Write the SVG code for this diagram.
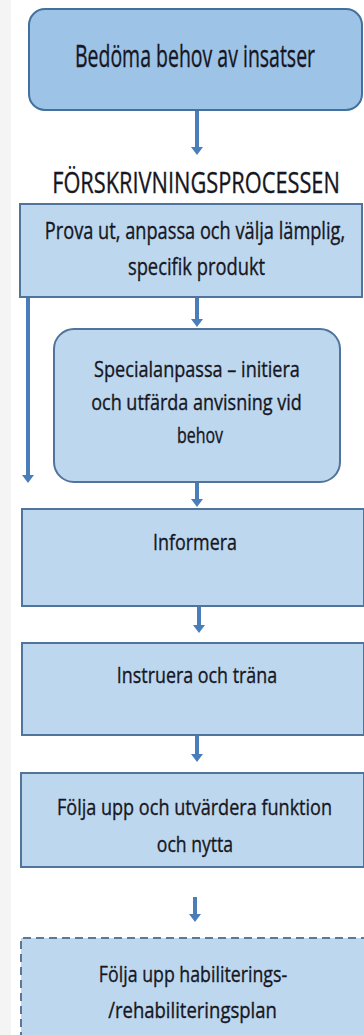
<svg xmlns="http://www.w3.org/2000/svg" width="364" height="1035" viewBox="0 0 364 1035">
<defs>
<style>
.lbl{font-family:"Open Sans","Liberation Sans",sans-serif;fill:#161622;stroke:#161622;stroke-width:0.35;text-anchor:middle}
.box{fill:#bdd7ee;stroke:#50749c;stroke-width:2}
.top{fill:#9dc3e6;stroke:#41719c;stroke-width:2}
.shaft{stroke:#4a7ebb;stroke-width:4;fill:none}
.head{fill:#4a7ebb}
</style>
</defs>
<rect x="0" y="0" width="364" height="1035" fill="#ffffff"/>
<rect x="0" y="0" width="11" height="1035" fill="#f4f4f4"/>
<g id="connectors">
<path class="shaft" d="M197,111 V148"/>
<path class="head" d="M191,147 L203,147 L197,155 Z"/>
<path class="shaft" d="M197,298 V320"/>
<path class="head" d="M191,319 L203,319 L197,327 Z"/>
<path class="shaft" d="M28,298 V476"/>
<path class="head" d="M22,475 L34,475 L28,483 Z"/>
<path class="shaft" d="M197,483 V500"/>
<path class="head" d="M191,499 L203,499 L197,507 Z"/>
<path class="shaft" d="M199,607 V626"/>
<path class="head" d="M193,625 L205,625 L199,633 Z"/>
<path class="shaft" d="M197,736 V755"/>
<path class="head" d="M191,754 L203,754 L197,762 Z"/>
<path class="shaft" d="M195,897 V915"/>
<path class="head" d="M189,914 L201,914 L195,922 Z"/>
</g>
<g id="n-bedoma">
<rect class="top" x="29" y="9" width="333" height="101" rx="16"/>
<text class="lbl" transform="translate(195,67) scale(0.7,1)" font-size="31" textLength="343" lengthAdjust="spacingAndGlyphs">Bedöma behov av insatser</text>
</g>
<g id="n-title">
<text class="lbl" transform="translate(196,193) scale(0.7,1)" font-size="30" textLength="411" lengthAdjust="spacingAndGlyphs">FÖRSKRIVNINGSPROCESSEN</text>
</g>
<g id="n-prova">
<rect class="box" x="20" y="204" width="342" height="93"/>
<text class="lbl" transform="translate(195,239) scale(0.7,1)" font-size="23" textLength="429" lengthAdjust="spacingAndGlyphs">Prova ut, anpassa och välja lämplig,</text>
<text class="lbl" transform="translate(196.5,275) scale(0.7,1)" font-size="23" textLength="196" lengthAdjust="spacingAndGlyphs">specifik produkt</text>
</g>
<g id="n-special">
<rect class="box" x="54" y="329" width="286" height="153" rx="20"/>
<text class="lbl" transform="translate(197,377) scale(0.7,1)" font-size="21.5" textLength="294" lengthAdjust="spacingAndGlyphs">Specialanpassa – initiera</text>
<text class="lbl" transform="translate(196.5,410) scale(0.7,1)" font-size="21.5" textLength="301" lengthAdjust="spacingAndGlyphs">och utfärda anvisning vid</text>
<text class="lbl" transform="translate(200,443) scale(0.7,1)" font-size="21.5" textLength="66" lengthAdjust="spacingAndGlyphs">behov</text>
</g>
<g id="n-informera">
<rect class="box" x="22" y="509" width="342" height="97"/>
<text class="lbl" transform="translate(195,550) scale(0.7,1)" font-size="22" textLength="120" lengthAdjust="spacingAndGlyphs">Informera</text>
</g>
<g id="n-instruera">
<rect class="box" x="22" y="643" width="342" height="92"/>
<text class="lbl" transform="translate(197,683) scale(0.7,1)" font-size="22" textLength="229" lengthAdjust="spacingAndGlyphs">Instruera och träna</text>
</g>
<g id="n-folja">
<rect class="box" x="21" y="773" width="343" height="94"/>
<text class="lbl" transform="translate(194.5,815) scale(0.7,1)" font-size="22" textLength="393" lengthAdjust="spacingAndGlyphs">Följa upp och utvärdera funktion</text>
<text class="lbl" transform="translate(195,852) scale(0.7,1)" font-size="22" textLength="109" lengthAdjust="spacingAndGlyphs">och nytta</text>
</g>
<g id="n-plan">
<rect x="21" y="938" width="360" height="120" fill="#bdd7ee"/>
<path d="M21,1040 V938 H364" fill="none" stroke="#5c7896" stroke-width="2" stroke-dasharray="8,5"/>
<text class="lbl" transform="translate(193,982) scale(0.7,1)" font-size="22" textLength="269" lengthAdjust="spacingAndGlyphs">Följa upp habiliterings-</text>
<text class="lbl" transform="translate(192.5,1018) scale(0.7,1)" font-size="22" textLength="241" lengthAdjust="spacingAndGlyphs">/rehabiliteringsplan</text>
</g>
</svg>
